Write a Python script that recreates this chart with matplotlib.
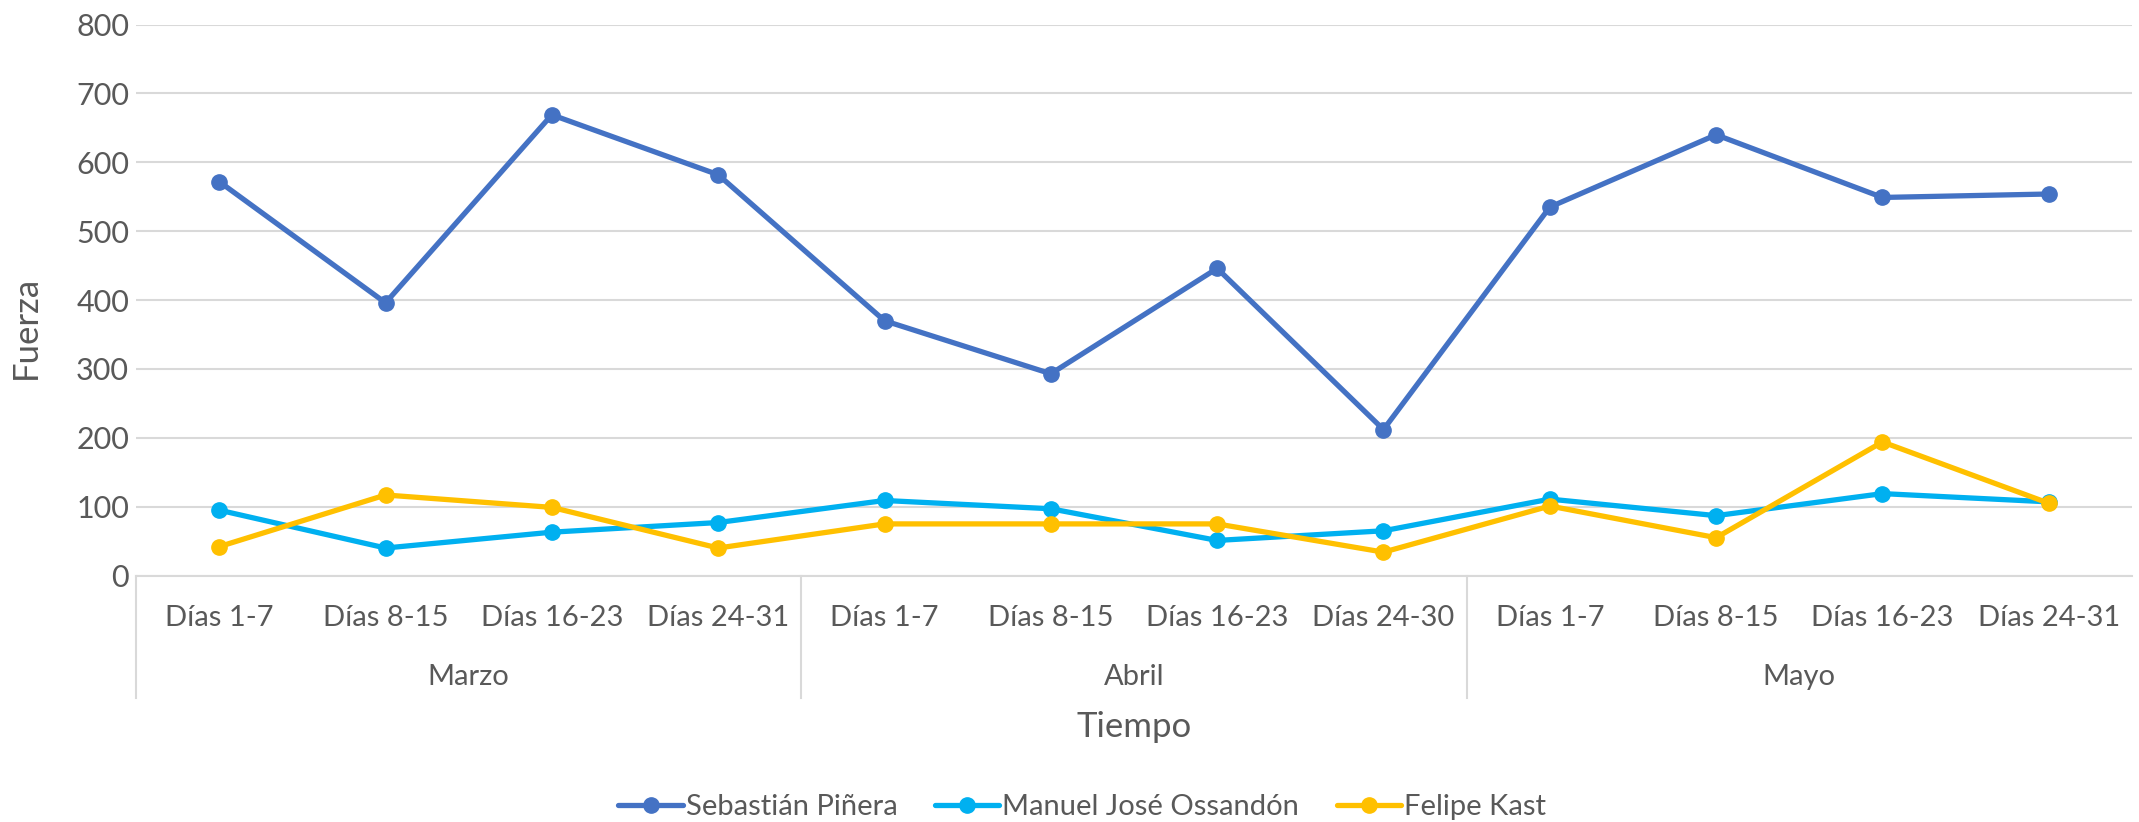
import matplotlib
matplotlib.use("Agg")
import matplotlib.pyplot as plt
import matplotlib.transforms as mtransforms

plt.rcParams['font.family'] = ['Lato', 'DejaVu Sans']

# data
months = ["Marzo", "Abril", "Mayo"]
weeks = [
    ["Días 1-7", "Días 8-15", "Días 16-23", "Días 24-31"],
    ["Días 1-7", "Días 8-15", "Días 16-23", "Días 24-30"],
    ["Días 1-7", "Días 8-15", "Días 16-23", "Días 24-31"],
]
pinera = [572, 396, 669, 582, 370, 293, 446, 212, 535, 640, 549, 554]
ossandon = [95, 40, 63, 77, 109, 97, 51, 65, 111, 87, 119, 107]
kast = [42, 117, 99, 40, 75, 75, 75, 34, 101, 55, 194, 105]

series = [
    ("Sebastián Piñera", pinera, "#4472C4"),
    ("Manuel José Ossandón", ossandon, "#00B0F0"),
    ("Felipe Kast", kast, "#FFC000"),
]

text_color = "#595959"
grid_color = "#D9D9D9"
fs = 21

fig = plt.figure(figsize=(21.39, 8.22), dpi=100)
ax = fig.add_axes([0.0636, 0.2998, 0.9331, 0.6703])

tick_labels = [w for m in weeks for w in m]
x = list(range(len(tick_labels)))

for name, vals, color in series:
    ax.plot(x, vals, color=color, lw=3.8, marker="o", ms=11, label=name,
            solid_capstyle="round", zorder=3)

ax.set_xlim(-0.5, len(x) - 0.5)
ax.set_ylim(0, 800)
ax.set_yticks(range(0, 801, 100))
ax.tick_params(axis="y", length=0, labelsize=fs + 1, labelcolor=text_color, pad=5)
ax.yaxis.grid(True, color=grid_color, lw=1.5)
ax.set_axisbelow(True)

for s in ["top", "right", "left"]:
    ax.spines[s].set_visible(False)
ax.spines["bottom"].set_color(grid_color)
ax.spines["bottom"].set_linewidth(1.5)

ax.set_xticks(x)
ax.set_xticklabels(tick_labels)
ax.tick_params(axis="x", length=0, labelsize=fs, labelcolor=text_color, pad=21)

# month level of the category axis
trans = mtransforms.blended_transform_factory(ax.transData, ax.transAxes)
start = 0
bounds = [-0.5]
for m, w in zip(months, weeks):
    center = start + (len(w) - 1) / 2
    ax.text(center, -0.185, m, transform=trans, ha="center", va="center",
            fontsize=fs, color=text_color)
    start += len(w)
    bounds.append(start - 0.5)
for b in bounds[:-1]:
    ax.plot([b, b], [0, -0.222], transform=trans, color=grid_color, lw=1.5,
            clip_on=False)

ax.set_xlabel("Tiempo", fontsize=fs + 4, color=text_color, labelpad=0)
ax.xaxis.set_label_coords(0.5, -0.245)
ax.set_ylabel("Fuerza", fontsize=fs + 4, color=text_color)
ax.yaxis.set_label_coords(-0.047, 0.45)

fig.legend(loc="lower center", ncol=3, frameon=False, fontsize=fs,
           bbox_to_anchor=(0.506, -0.03), handlelength=2.2, handletextpad=0.1,
           columnspacing=1.3, labelcolor=text_color)

fig.savefig("out.png", dpi=100)
